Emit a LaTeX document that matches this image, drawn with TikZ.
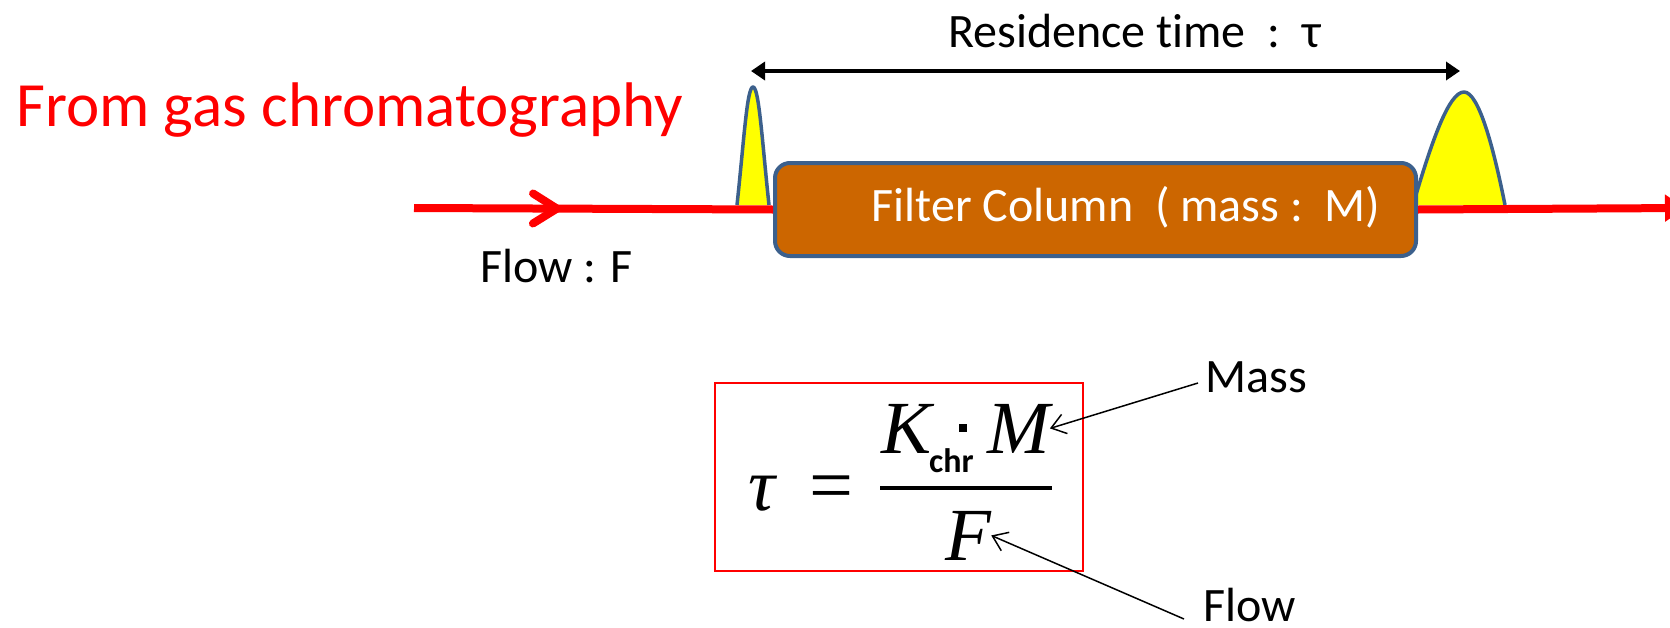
\documentclass[tikz,border=0pt]{standalone}
\usepackage{fontspec}
\setmainfont{Carlito}[Ligatures={NoCommon}]
\newfontfamily\formfont{Liberation Serif}
\usetikzlibrary{arrows.meta,decorations.markings}
\definecolor{colbrown}{RGB}{204,102,0}
\definecolor{edgeblue}{RGB}{60,96,140}
\definecolor{pureRed}{RGB}{255,0,0}
\definecolor{peakyellow}{RGB}{255,255,0}
\begin{document}
\begin{tikzpicture}[x=1pt,y=-1pt,
  txt/.style={inner sep=0pt, anchor=base west},
  bigtxt/.style={txt, font=\fontsize{48}{56}\selectfont},
  formtxt/.style={txt, font=\formfont\itshape\fontsize{75}{80}\selectfont},
  peak/.style={draw=edgeblue, line width=3.5pt, fill=peakyellow, line join=round},
  redflow/.style={draw=pureRed, line width=8pt},
  colbox/.style={draw=edgeblue, line width=4pt, fill=colbrown, rounded corners=15pt,
    minimum width=641pt, minimum height=93pt, inner sep=0pt},
  thinarrow/.style={draw=black, line width=1.5pt, -{Straight Barb[length=14pt,width=20pt]}},
  timearrow/.style={draw=black, line width=4pt, {Triangle[length=14pt,width=18pt]}-{Triangle[length=14pt,width=18pt]}}
]
\useasboundingbox (0,0) rectangle (1670,627);
\clip (0,0) rectangle (1670,627);

% title
\node[txt, text=pureRed, font=\fontsize{63}{72}\selectfont] (title) at (16,126) {From gas chromatography};

% peaks
\draw[peak] (737,205) .. controls (744,140) and (747,87) .. (753,87)
  .. controls (759,87) and (762,140) .. (769,205);
\draw[peak] (1413,205) .. controls (1432,140) and (1449,92) .. (1464,92)
  .. controls (1479,92) and (1494,150) .. (1505,205);

% column
\node[colbox] (col) at (1095.5,209.5) {};
\node[bigtxt, anchor=base, text=white] (coltext) at (1126,221) {Filter Column\ \ ( mass :\ \ M)};

% red flow line
\coordinate (flowstart) at (414,208);
\coordinate (flowend) at (1685,208);
\draw[redflow, postaction={decorate, decoration={markings,
   mark=at position 143pt with {\draw[pureRed, line width=8pt, line cap=round, line join=round]
     (-24pt,15pt) -- (0pt,0pt) -- (-24pt,-15pt);}}}]
  (flowstart) -- (col.west);
\draw[redflow, -{Triangle[length=20pt,width=26pt]}] (col.east) -- (flowend);

\node[bigtxt] (flowF) at (480,282) {Flow : F};

% residence time
\node[bigtxt] (restxt) at (948,47) {Residence time\ \ :\ \ τ};
\coordinate (resL) at (751,71);
\coordinate (resR) at (1460,71);
\draw[timearrow] (resL) -- (resR);

% formula
\node[draw=pureRed, line width=2pt, minimum width=368pt, minimum height=188pt, inner sep=0pt] (formbox) at (899,477) {};
\node[formtxt] (tau) at (748,510) {τ};
\node[inner sep=0pt, anchor=center, font=\formfont\fontsize{78}{80}\selectfont] (eq) at (831,494) {=};
\node[formtxt] (K) at (881,453) {K};
\node[txt, font=\bfseries\fontsize{34}{38}\selectfont] (chr) at (929,472) {chr};
\node[fill=black, minimum size=8pt, inner sep=0pt] (dot) at (963,427.5) {};
\node[formtxt] (M) at (987,453) {M};
\coordinate (barL) at (880,488);
\coordinate (barR) at (1052,488);
\draw[line width=4pt] (barL) -- (barR);
\node[formtxt] (F) at (945,560) {F};

% labels
\node[bigtxt] (mass) at (1205,392) {Mass};
\node[bigtxt] (flow) at (1203,621) {Flow};
\coordinate (massfrom) at (1198,383);
\coordinate (flowfrom) at (1184,619);
\draw[thinarrow] (massfrom) -- (M.east);
\draw[thinarrow] (flowfrom) -- (F.east);
\end{tikzpicture}
\end{document}
